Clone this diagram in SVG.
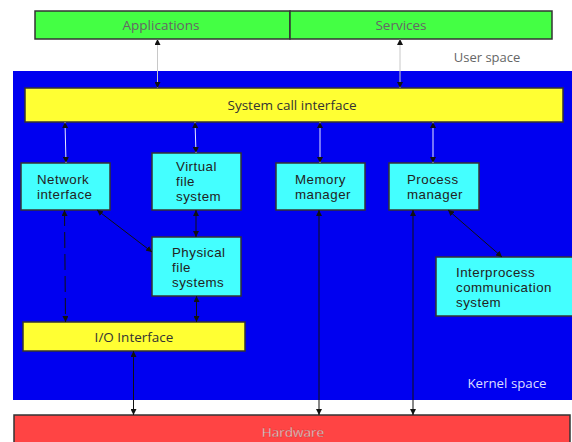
<svg xmlns="http://www.w3.org/2000/svg" width="572" height="442" viewBox="0 0 572 442">
  <defs>
    <marker id="head" viewBox="0 0 10 10" refX="10" refY="5" markerWidth="6" markerHeight="6" markerUnits="userSpaceOnUse" orient="auto-start-reverse">
      <path d="M0,0 L10,5 L0,10 z" fill="#111"/>
    </marker>
    <style>
      text { font-family: "Open Sans", "Noto Sans", "DejaVu Sans", sans-serif; }
      .box { stroke: #333; stroke-width: 1.5; }
      .user { fill: #44ff44; }
      .syscall { fill: #ffff33; }
      .comp { fill: #44ffff; }
      .hw { fill: #ff4444; }
      .lbl { font-family: "Liberation Sans", Arial, sans-serif; font-size: 13.3px; letter-spacing: 0.5px; fill: #222; }
      .bar { font-size: 13.5px; fill: #333; text-anchor: middle; }
      .grey { fill: #666; }
      .link { fill: none; stroke: #111; stroke-width: 1; marker-start: url(#head); marker-end: url(#head); }
      .light { stroke: #c8c8c8; }
      .white { stroke: #e8e8ff; }
      .dash { stroke-dasharray: 16 6; }
    </style>
  </defs>

  <!-- background -->
  <rect x="0" y="0" width="572" height="442" fill="#ffffff"/>

  <!-- kernel space band -->
  <rect x="13" y="71" width="559" height="329" fill="#0000f0"/>
  <text x="507" y="388" font-size="13.3" fill="#ddddff" text-anchor="middle">Kernel space</text>
  <text x="487" y="62" font-size="13" fill="#666" text-anchor="middle">User space</text>

  <!-- user space -->
  <g id="applications">
    <rect class="box user" x="35" y="11" width="255" height="28"/>
    <text class="bar grey" x="161" y="30">Applications</text>
  </g>
  <g id="services">
    <rect class="box user" x="290" y="11" width="262" height="28"/>
    <text class="bar grey" x="401" y="30">Services</text>
  </g>

  <!-- system call interface -->
  <g id="system-call-interface">
    <rect class="box syscall" x="25" y="88" width="538" height="34"/>
    <text class="bar" x="292" y="110">System call interface</text>
  </g>

  <!-- kernel components (multi-line labels as tspans) -->
  <g id="network-interface">
    <rect class="box comp" x="21" y="163" width="89" height="47"/>
    <text class="lbl" x="37" y="184">Network<tspan x="37" dy="15">interface</tspan></text>
  </g>
  <g id="virtual-file-system">
    <rect class="box comp" x="152" y="153" width="89" height="57"/>
    <text class="lbl" x="176" y="170.5">Virtual<tspan x="176" dy="15">file</tspan><tspan x="176" dy="15">system</tspan></text>
  </g>
  <g id="physical-file-systems">
    <rect class="box comp" x="152" y="237" width="89" height="59"/>
    <text class="lbl" x="172" y="256.5">Physical<tspan x="172" dy="15">file</tspan><tspan x="172" dy="15">systems</tspan></text>
  </g>
  <g id="memory-manager">
    <rect class="box comp" x="276" y="163" width="89" height="47"/>
    <text class="lbl" x="295" y="184">Memory<tspan x="295" dy="15">manager</tspan></text>
  </g>
  <g id="process-manager">
    <rect class="box comp" x="389" y="163" width="90" height="47"/>
    <text class="lbl" x="407" y="184">Process<tspan x="407" dy="15">manager</tspan></text>
  </g>
  <g id="interprocess-communication">
    <rect class="box comp" x="436" y="257" width="140" height="59"/>
    <text class="lbl" x="456" y="277">Interprocess<tspan x="456" dy="15">communication</tspan><tspan x="456" dy="15">system</tspan></text>
  </g>
  <g id="io-interface">
    <rect class="box syscall" x="23" y="322" width="222" height="29"/>
    <text class="bar" x="134" y="341.5">I/O Interface</text>
  </g>

  <!-- hardware -->
  <g id="hardware">
    <rect class="box hw" x="14" y="415" width="556" height="32"/>
    <text x="293" y="437" font-size="13.5" fill="#f2e6e6" stroke="#a33" stroke-width="0.3" text-anchor="middle">Hardware</text>
  </g>

  <!-- connectors -->
  <g id="connectors">
    <line class="link light" x1="157.5" y1="39" x2="157.5" y2="88"/>
    <line class="link light" x1="400" y1="39" x2="400" y2="88"/>
    <line class="link white" x1="65" y1="122" x2="66" y2="163"/>
    <line class="link white" x1="195" y1="122" x2="196" y2="153"/>
    <line class="link white" x1="320" y1="122" x2="320" y2="163"/>
    <line class="link white" x1="433" y1="122" x2="433" y2="163"/>
    <line class="link" x1="97" y1="210" x2="152" y2="252"/>
    <line class="link" x1="196" y1="210" x2="196" y2="237"/>
    <line class="link dash" x1="64.5" y1="210" x2="65.5" y2="322"/>
    <line class="link" x1="196.5" y1="296" x2="196.5" y2="322"/>
    <line class="link" x1="448" y1="210" x2="502" y2="257"/>
    <line class="link" x1="133.5" y1="351" x2="133.5" y2="415"/>
    <line class="link" x1="319" y1="210" x2="319" y2="415"/>
    <line class="link" x1="413" y1="210" x2="413" y2="415"/>
  </g>
</svg>
